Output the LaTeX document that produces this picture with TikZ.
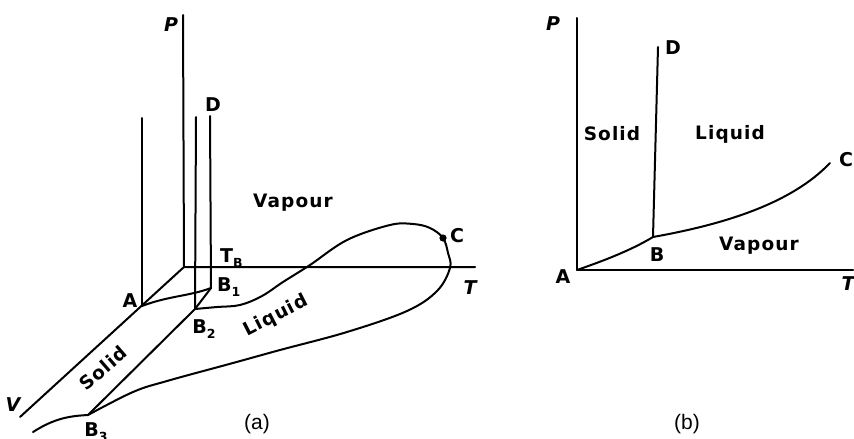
\documentclass[tikz,border=0pt]{standalone}
\usepackage{fontspec}
\setmainfont{DejaVu Sans}
\newfontfamily\labfont[LetterSpace=6]{DejaVu Sans Bold}
\newfontfamily\letfont{DejaVu Sans Bold}
\newfontfamily\axfont{DejaVu Sans Bold Oblique}
\newfontfamily\capfont{Liberation Sans}
\newcommand\lsub[1]{\raisebox{-0.45ex}{\fontsize{12.5}{12.5}\selectfont #1}}
\tikzset{
  ln/.style={line width=2pt, line cap=round, line join=round},
  region/.style={font=\labfont\fontsize{18.5}{18.5}\selectfont, inner sep=0pt},
  pt/.style={font=\letfont\fontsize{19}{19}\selectfont, inner sep=0pt},
  ax/.style={font=\axfont\fontsize{19}{19}\selectfont, inner sep=0pt},
  captext/.style={font=\capfont\fontsize{21}{21}\selectfont, inner sep=0pt}
}
\begin{document}
\begin{tikzpicture}[x=1pt,y=-1pt]
\useasboundingbox (0,0) rectangle (854,439);
% ---------- panel (a) ----------
\coordinate (O) at (184,267);
\coordinate (Ptop) at (183,15);
\coordinate (Tend) at (475,267);
\coordinate (Vend) at (20,417);
\coordinate (A) at (142,306);
\coordinate (Atop) at (142,118);
\coordinate (B1) at (211,288);
\coordinate (B1top) at (210,116);
\coordinate (B2) at (195,309);
\coordinate (B2top) at (196,117);
\coordinate (B3) at (88,415);
\coordinate (C) at (443,238);
\coordinate (Lend) at (33,432);
\draw[ln] (Ptop) -- (O) -- (Tend);
\draw[ln] (O) -- (Vend);
\draw[ln] (A) -- (Atop);
\draw[ln] (B1) -- (B1top);
\draw[ln] (B2) -- (B2top);
\draw[ln] (A) .. controls (168,296) and (190,296) .. (B1);
\draw[ln] (B1) -- (B2) -- (B3);
\draw[ln] plot[smooth, tension=0.6] coordinates {(B2) (217,307) (240,305) (262,296) (283,282) (310,265) (347,240) (390,225) (413,224) (430,228) (C) (448,253) (450,268) (437,291) (407,311) (347,332) (280,350) (233,363) (167,381) (133,392) (B3)};
\draw[ln] (B3) .. controls (70,416) and (55,418) .. (Lend);
\fill (C) circle (3.6pt);
\node[ax] (lP) at (171,25) {P};
\node[ax] (lT) at (470,288) {T};
\node[ax] (lV) at (13,405) {V};
\node[pt] (lA) at (130,301) {A};
\node[pt] (lD) at (213,105) {D};
\node[pt] (lC) at (457,236) {C};
\node[pt, anchor=west] (lTB) at (220,258) {T\lsub{B}};
\node[pt, anchor=west] (lB1) at (217,287) {B\lsub{1}};
\node[pt] (lB2) at (204,329) {B\lsub{2}};
\node[pt] (lB3) at (96,432) {B\lsub{3}};
\node[region] (lVap) at (293,203) {Vapour};
\node[region, rotate=27] (lLiq) at (276,316) {Liquid};
\node[region, rotate=41] (lSol) at (103,368) {Solid};
\node[captext] (la) at (257,424) {(a)};
% ---------- panel (b) ----------
\coordinate (O2) at (577,270);
\coordinate (P2) at (577,18);
\coordinate (T2) at (853,270);
\coordinate (Bb) at (653,237);
\coordinate (Db) at (658,47);
\coordinate (Cb) at (830,163);
\draw[ln] (P2) -- (O2) -- (T2);
\draw[ln] (O2) .. controls (600,262) and (630,251) .. (Bb);
\draw[ln] (Bb) -- (Db);
\draw[ln] (Bb) .. controls (720,225) and (790,205) .. (Cb);
\node[ax] (lP2) at (553,24) {P};
\node[ax] (lT2) at (848,284) {T};
\node[pt] (lA2) at (563,277) {A};
\node[pt] (lB) at (657,255) {B};
\node[pt] (lC2) at (846,160) {C};
\node[pt] (lD2) at (673,48) {D};
\node[region] (lSol2) at (612,134) {Solid};
\node[region] (lLiq2) at (730,134) {Liquid};
\node[region] (lVap2) at (759,246) {Vapour};
\node[captext] (lb) at (687,424) {(b)};
\end{tikzpicture}
\end{document}
